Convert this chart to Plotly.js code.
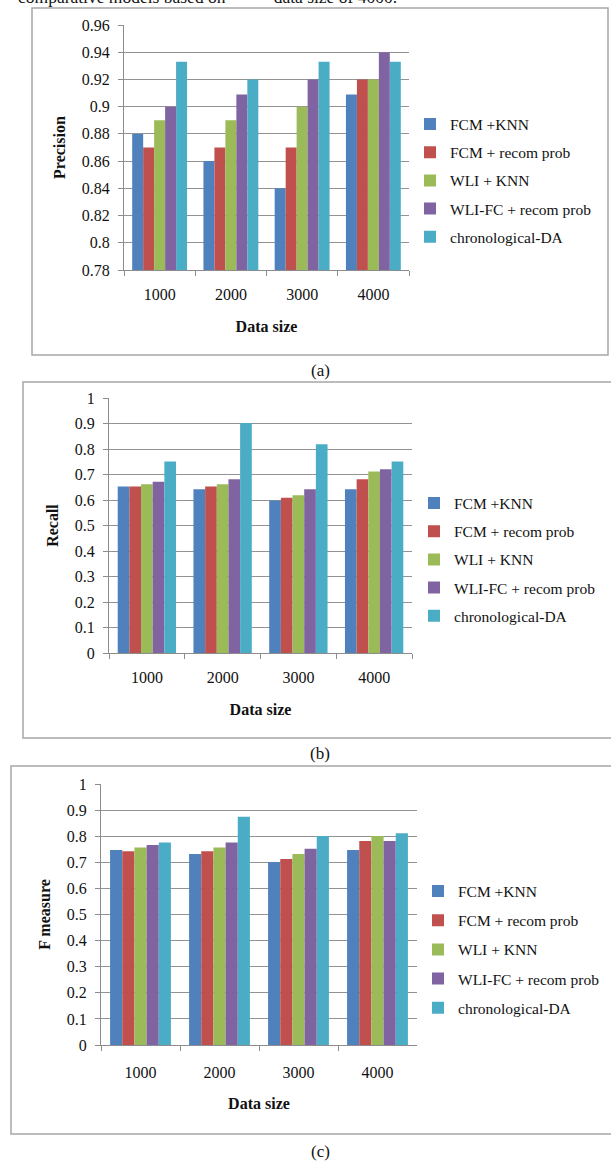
<!DOCTYPE html>
<html>
<head>
<meta charset="utf-8">
<script src="https://cdn.plot.ly/plotly-3.0.1.min.js"></script>
<style>html,body{margin:0;padding:0;background:#fff;}#chart{width:611px;height:1164px;}</style>
</head>
<body>
<div id="chart"></div>
<script>
// ---- data ----
const categories = ['1000', '2000', '3000', '4000'];
const seriesNames = ['FCM +KNN', 'FCM + recom prob', 'WLI + KNN', 'WLI-FC + recom prob', 'chronological-DA'];

const precisionFcmKnn   = [0.88, 0.86, 0.84, 0.909];
const precisionFcmRecom = [0.87, 0.87, 0.87, 0.92];
const precisionWliKnn   = [0.89, 0.89, 0.90, 0.92];
const precisionWliFc    = [0.90, 0.909, 0.92, 0.94];
const precisionChrono   = [0.933, 0.92, 0.933, 0.933];

const recallFcmKnn   = [0.653, 0.642, 0.598, 0.642];
const recallFcmRecom = [0.653, 0.653, 0.609, 0.681];
const recallWliKnn   = [0.662, 0.662, 0.619, 0.712];
const recallWliFc    = [0.672, 0.681, 0.642, 0.721];
const recallChrono   = [0.751, 0.902, 0.819, 0.751];

const fmeasureFcmKnn   = [0.747, 0.732, 0.701, 0.747];
const fmeasureFcmRecom = [0.742, 0.742, 0.713, 0.782];
const fmeasureWliKnn   = [0.757, 0.757, 0.732, 0.801];
const fmeasureWliFc    = [0.766, 0.776, 0.752, 0.782];
const fmeasureChrono   = [0.776, 0.875, 0.801, 0.811];

const panelTitles = ['Precision', 'Recall', 'F measure'];
const xTitle = 'Data size';
const captions = ['(a)', '(b)', '(c)'];
const headerText = 'comparative models based on\u00a0\u00a0\u00a0\u00a0\u00a0\u00a0\u00a0\u00a0\u00a0\u00a0 data size of 4000.';

// ---- style ----
const colors = ['#4F81BD', '#C0504D', '#9BBB59', '#8064A2', '#4BACC6'];
const W = 611, H = 1164;
const FONT = 'Liberation Serif';
const px = v => v / W;
const py = v => 1 - v / H;

const panels = [
  { series: [precisionFcmKnn, precisionFcmRecom, precisionWliKnn, precisionWliFc, precisionChrono],
    x: [124, 409], y: [25, 270], range: [0.78, 0.96], dtick: 0.02, fmt: '.2~f',
    legend: 'legend', legendX: 410, legendY: 180.5, xlabOff: 10, xtitleOff: 18, gap: 5 },
  { series: [recallFcmKnn, recallFcmRecom, recallWliKnn, recallWliFc, recallChrono],
    x: [109, 412], y: [398, 653], range: [0, 1], dtick: 0.1, fmt: '.1~f',
    legend: 'legend2', legendX: 414, legendY: 559.5, xlabOff: 10, xtitleOff: 18, gap: 5 },
  { series: [fmeasureFcmKnn, fmeasureFcmRecom, fmeasureWliKnn, fmeasureWliFc, fmeasureChrono],
    x: [101, 417], y: [784, 1045], range: [0, 1], dtick: 0.1, fmt: '.1~f',
    legend: 'legend3', legendX: 418, legendY: 949.5, xlabOff: 13, xtitleOff: 17, gap: 6 }
];

const traces = [];
const layout = {
  width: W, height: H,
  margin: { l: 0, r: 0, t: 0, b: 0 },
  paper_bgcolor: '#fff', plot_bgcolor: '#fff',
  barmode: 'group', bargap: 0.23, bargroupgap: 0,
  font: { family: FONT, size: 15, color: '#111' },
  showlegend: true,
  shapes: [], annotations: []
};

panels.forEach((p, i) => {
  const sfx = i === 0 ? '' : String(i + 1);
  const xa = 'x' + sfx, ya = 'y' + sfx;
  p.series.forEach((vals, s) => {
    traces.push({
      type: 'bar', x: categories, y: vals, name: seriesNames[s],
      xaxis: xa, yaxis: ya, legend: p.legend, legendgroup: 'p' + i + 's' + s,
      marker: { color: colors[s], line: { width: 0 } },
      hoverinfo: 'x+y+name'
    });
  });
  layout['xaxis' + sfx] = {
    domain: [px(p.x[0]), px(p.x[1])], anchor: ya,
    type: 'category', showgrid: false, showline: true, linecolor: '#8c8c8c', linewidth: 1,
    ticks: 'outside', tickson: 'boundaries', ticklen: 5, tickcolor: '#8c8c8c',
    ticklabelstandoff: p.xlabOff,
    tickfont: { family: FONT, size: 16, color: '#111' },
    title: { text: '<b>' + xTitle + '</b>', font: { family: FONT, size: 16, color: '#111' }, standoff: p.xtitleOff },
    fixedrange: true, automargin: false
  };
  layout['yaxis' + sfx] = {
    domain: [py(p.y[1]), py(p.y[0])], anchor: xa,
    range: p.range, dtick: p.dtick, tick0: 0, tickformat: p.fmt,
    showgrid: true, gridcolor: '#939393', gridwidth: 1,
    showline: true, linecolor: '#8c8c8c', linewidth: 1, zeroline: false,
    ticks: 'outside', ticklen: 5, tickcolor: '#8c8c8c', ticklabelstandoff: 5,
    tickfont: { family: FONT, size: 16, color: '#111' },
    title: { text: '<b>' + panelTitles[i] + '</b>', font: { family: FONT, size: 16, color: '#111' }, standoff: 12 },
    fixedrange: true, automargin: false
  };
  layout[p.legend] = {
    x: px(p.legendX), xanchor: 'left', y: py(p.legendY), yanchor: 'middle',
    bgcolor: 'rgba(0,0,0,0)', borderwidth: 0,
    font: { family: FONT, size: 15.5, color: '#111' },
    traceorder: 'grouped', tracegroupgap: p.gap
  };
});

// frames around panels
const frame = (x0, y0, x1, y1) => ({
  type: 'rect', xref: 'paper', yref: 'paper', x0: px(x0), x1: px(x1), y0: py(y1), y1: py(y0),
  line: { color: '#a6a6a6', width: 1.5 }, fillcolor: 'rgba(0,0,0,0)', layer: 'below'
});
layout.shapes.push(frame(32, 8, 608, 355));
layout.shapes.push(frame(23, 382, 640, 738));
layout.shapes.push(frame(11, 766, 640, 1134));

// captions
[370, 753, 1151].forEach((yy, i) => {
  layout.annotations.push({
    text: captions[i], xref: 'paper', yref: 'paper', x: px(320), y: py(yy),
    xanchor: 'center', yanchor: 'middle', showarrow: false,
    font: { family: FONT, size: 17, color: '#111' }
  });
});
layout.annotations.push({
  text: headerText, xref: 'paper', yref: 'paper', x: px(16), y: py(-3),
  xanchor: 'left', yanchor: 'middle', showarrow: false,
  font: { family: FONT, size: 17.5, color: '#111' }
});

Plotly.newPlot('chart', traces, layout, { displayModeBar: false, staticPlot: true });
</script>
</body>
</html>
